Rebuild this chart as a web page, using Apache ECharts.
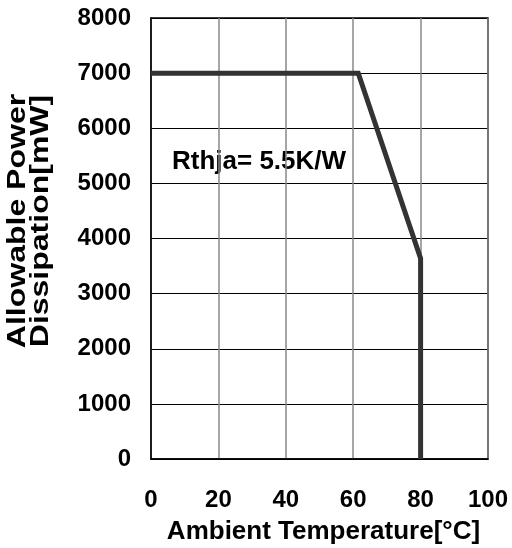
<!DOCTYPE html>
<html>
<head>
<meta charset="utf-8">
<script src="https://cdn.jsdelivr.net/npm/echarts@6/dist/echarts.min.js"></script>
<style>html,body{margin:0;padding:0;background:#fff}#c{width:512px;height:548px}</style>
</head>
<body>
<div id="c"></div>
<script>
const temperature = [0, 61.5, 80, 80];
const power = [7000, 7000, 3640, 0];
const xTicks = [0, 20, 40, 60, 80, 100];
const yTicks = [0, 1000, 2000, 3000, 4000, 5000, 6000, 7000, 8000];
const xTitle = 'Ambient Temperature[°C]';
const yTitle = 'Allowable Power\nDissipation[mW]';
const annotation = 'Rthja= 5.5K/W';

const chart = echarts.init(document.getElementById('c'), null, {renderer: 'canvas'});
const font = 'Liberation Sans, Arial, sans-serif';
chart.setOption({
  animation: false,
  backgroundColor: '#fff',
  grid: {left: 151, top: 18, width: 337, height: 441, show: true, borderColor: '#000', borderWidth: 1.5,
         containLabel: false, outerBoundsMode: 'none'},
  xAxis: {
    type: 'value', min: xTicks[0], max: xTicks[xTicks.length-1], interval: 20,
    name: xTitle, nameLocation: 'middle', nameGap: 60,
    nameTextStyle: {fontFamily: font, fontWeight: 'bold', fontSize: 26, color: '#000', padding: [0, 0, 0, 8]},
    axisLine: {show: true, lineStyle: {color: '#000', width: 1.5}},
    axisTick: {show: false},
    axisLabel: {fontFamily: font, fontWeight: 'bold', fontSize: 24, color: '#000', margin: 29,
                formatter: v => String(v)},
    splitLine: {show: true, lineStyle: {color: '#888', width: 1.5}}
  },
  yAxis: {
    type: 'value', min: yTicks[0], max: yTicks[yTicks.length-1], interval: 1000,
    axisLine: {show: true, lineStyle: {color: '#000', width: 1.5}},
    axisTick: {show: false},
    axisLabel: {fontFamily: font, fontWeight: 'bold', fontSize: 24, color: '#000', margin: 20,
                formatter: v => String(v)},
    splitLine: {show: true, lineStyle: {color: '#000', width: 1}}
  },
  graphic: [{
    type: 'text', x: 172, y: 162,
    style: {text: annotation, font: 'bold 26px ' + font, fill: '#000', textVerticalAlign: 'middle'}
  }, {
    type: 'text', x: 30, y: 221, rotation: Math.PI / 2, scaleX: 1.28,
    style: {text: yTitle, font: 'bold 25px ' + font, fill: '#000', textAlign: 'center',
            textVerticalAlign: 'middle', lineHeight: 23}
  }],
  series: [{
    type: 'line',
    data: temperature.map((t, i) => [t, power[i]]),
    symbol: 'none',
    lineStyle: {color: '#333', width: 5, join: 'miter'}
  }]
});
</script>
</body>
</html>
